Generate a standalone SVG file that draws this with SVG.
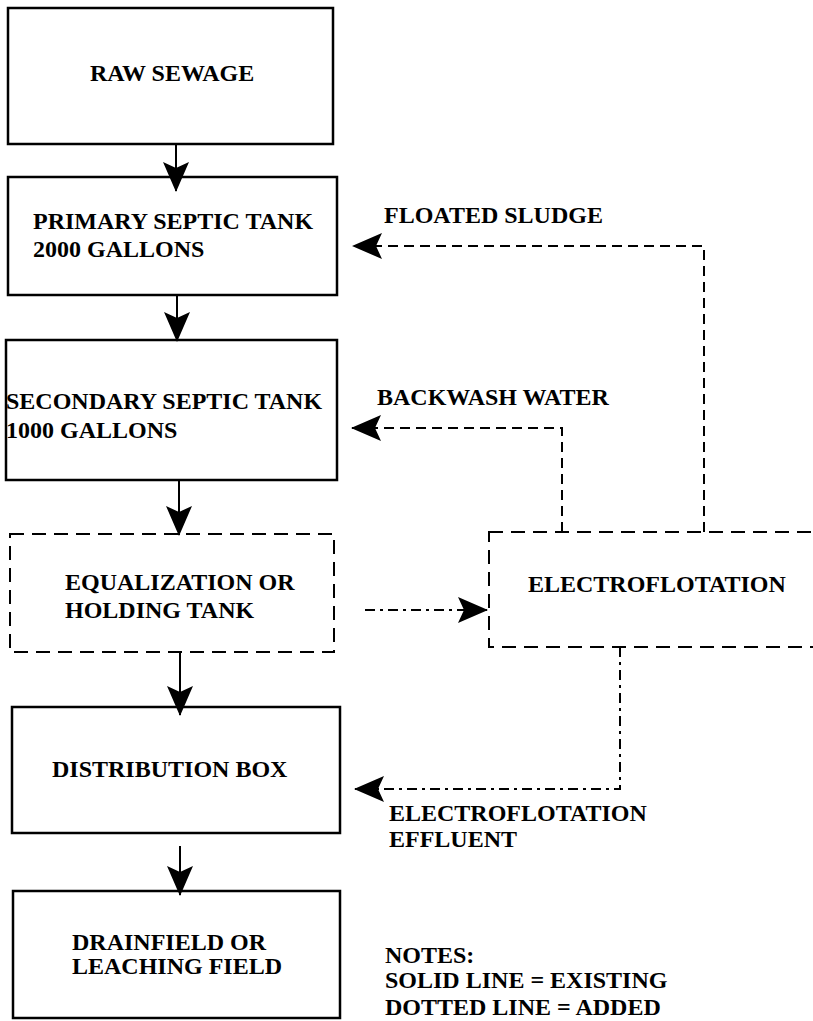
<svg xmlns="http://www.w3.org/2000/svg" width="813" height="1021" viewBox="0 0 813 1021">
<style>
text{font-family:"Liberation Serif","Times New Roman",serif;font-weight:bold;font-size:24px;fill:#000}
.box{fill:none;stroke:#000;stroke-width:2.5}
.dbox{fill:none;stroke:#000;stroke-width:2;stroke-dasharray:14 8}
.solid{fill:none;stroke:#000;stroke-width:2}
.dash{fill:none;stroke:#000;stroke-width:2;stroke-dasharray:10 6}
.dashdot{fill:none;stroke:#000;stroke-width:2;stroke-dasharray:10 5 3 5}
</style>
<defs>
<marker id="ah" viewBox="0 0 30 26" refX="29" refY="13" markerWidth="30" markerHeight="26" markerUnits="userSpaceOnUse" orient="auto">
<path d="M0,0 L30,13 L0,26 L6,13 Z" fill="#000"/>
</marker>
</defs>
<rect width="813" height="1021" fill="#fff"/>
<g id="raw-sewage">
<rect class="box" x="8" y="8" width="325" height="136"/>
<text x="90" y="81">RAW SEWAGE</text>
</g>
<g id="primary-tank">
<rect class="box" x="8" y="177" width="329" height="118"/>
<text x="33" y="229">PRIMARY SEPTIC TANK</text>
<text x="33" y="257">2000 GALLONS</text>
</g>
<g id="secondary-tank">
<rect class="box" x="6" y="340" width="331" height="140"/>
<text x="6" y="409">SECONDARY SEPTIC TANK</text>
<text x="6" y="438">1000 GALLONS</text>
</g>
<g id="equalization">
<rect class="dbox" x="10" y="534" width="324" height="118"/>
<text x="65" y="590">EQUALIZATION OR</text>
<text x="65" y="618">HOLDING TANK</text>
</g>
<g id="distribution-box">
<rect class="box" x="12" y="707" width="328" height="126"/>
<text x="52" y="777">DISTRIBUTION BOX</text>
</g>
<g id="drainfield">
<rect class="box" x="13" y="891" width="327" height="127"/>
<text x="72" y="950">DRAINFIELD OR</text>
<text x="72" y="974">LEACHING FIELD</text>
</g>
<g id="electroflotation">
<rect class="dbox" x="489" y="532" width="330" height="115"/>
<text x="528" y="592">ELECTROFLOTATION</text>
</g>
<g id="connectors">
<line class="solid" x1="176" y1="144" x2="176" y2="191" marker-end="url(#ah)"/>
<line class="solid" x1="177" y1="295" x2="177" y2="341" marker-end="url(#ah)"/>
<line class="solid" x1="179" y1="480" x2="179" y2="535" marker-end="url(#ah)"/>
<line class="solid" x1="180" y1="652" x2="180" y2="715" marker-end="url(#ah)"/>
<line class="solid" x1="180" y1="846" x2="180" y2="895" marker-end="url(#ah)"/>
<line class="dashdot" x1="365" y1="610" x2="487" y2="610" marker-end="url(#ah)"/>
<polyline class="dash" points="704,532 704,246 353,246" marker-end="url(#ah)"/>
<polyline class="dash" points="562,532 562,428 352,428" marker-end="url(#ah)"/>
<polyline class="dashdot" points="620,647 620,789 355,789" marker-end="url(#ah)"/>
</g>
<g id="labels">
<text x="384" y="223">FLOATED SLUDGE</text>
<text x="377" y="405">BACKWASH WATER</text>
<text x="389" y="821">ELECTROFLOTATION</text>
<text x="389" y="847">EFFLUENT</text>
<text x="385" y="963">NOTES:</text>
<text x="385" y="988">SOLID LINE = EXISTING</text>
<text x="385" y="1015">DOTTED LINE = ADDED</text>
</g>
</svg>
